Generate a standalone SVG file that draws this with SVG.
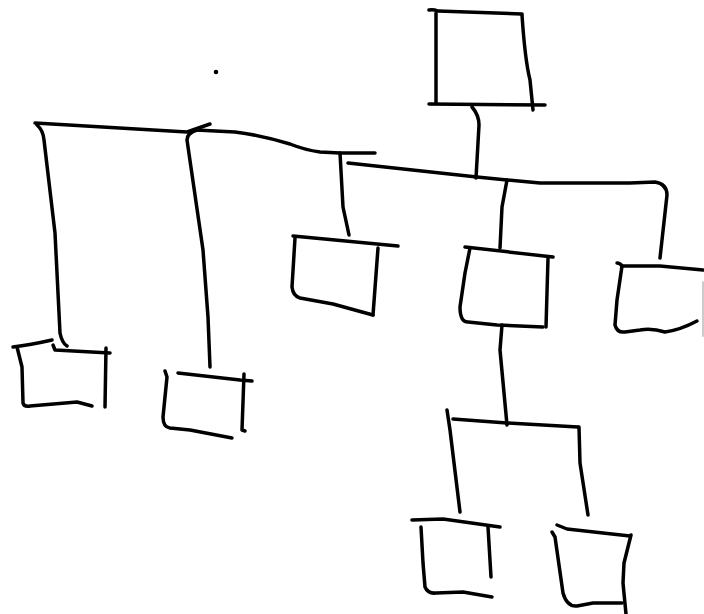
<svg xmlns="http://www.w3.org/2000/svg" width="704" height="614" viewBox="0 0 704 614">
<style>
.s{fill:none;stroke:#000;stroke-width:3.5;stroke-linecap:round;stroke-linejoin:round}
</style>
<rect width="704" height="614" fill="#fff"/>
<g id="connectors" class="s">
<path d="M472,107 Q479,115 479,125 L476,178"/>
<path d="M348,163 L477,177 L507,180 L540,183 L630,183 L655,182 Q667,184 667,195 L660,258"/>
<path d="M35,123 L187,132 L210,124"/>
<path d="M196,130 L235,132 Q260,135 290,144 Q305,150 320,152 L340,153 L375,153"/>
<path d="M37,125 Q43,130 44,140 L55,233 L60,333 Q62,343 67,346"/>
<path d="M197,130 Q187,133 187,140 L203,250 L208,317 L210,367"/>
<path d="M340,153 L343,207 L349,235"/>
<path d="M507,180 L502,207 L500,248"/>
<path d="M502,325 L500,350 L507,425"/>
<path d="M453,419 L507,423 L578,427"/>
<path d="M447,410 L450,430 L460,512"/>
<path d="M579,427 L580,463 L588,515"/>
</g>
<g id="dot"><circle cx="216" cy="72" r="2.3" fill="#000"/></g>
<g id="root" class="s">
<path d="M429,10 Q433,9 438,11 L522,14"/>
<path d="M436,13 L436,103"/>
<path d="M522,15 Q525,60 530,80 L533,110"/>
<path d="M429,104 L545,105"/>
</g>
<g id="node-a" class="s">
<path d="M13,347 Q30,345 52,340"/>
<path d="M53,345 L55,350 L110,353"/>
<path d="M17,347 L22,367 L23,403 Q24,407 30,406 L77,402 L92,406"/>
<path d="M106,348 L105,407"/>
</g>
<g id="node-b" class="s">
<path d="M165,371 L167,377 L163,417 Q163,427 170,428 L190,430 L232,438"/>
<path d="M178,373 L240,380 L252,381"/>
<path d="M244,374 L242,430 L245,431"/>
</g>
<g id="node-c" class="s">
<path d="M293,236 L335,240 L398,246"/>
<path d="M295,238 L292,287 Q293,296 300,298 L333,304 L373,315"/>
<path d="M378,248 L373,315"/>
</g>
<g id="node-d" class="s">
<path d="M465,247 L553,257"/>
<path d="M470,248 L465,273 L460,307 Q460,322 468,322 L497,325 L543,327"/>
<path d="M548,258 L546,327"/>
</g>
<g id="node-e" class="s">
<path d="M617,263 Q620,263 622,266 L660,266 L703,270"/>
<path d="M622,266 L617,300 L615,325 Q617,333 625,332 L640,330 Q652,328 665,332 Q680,330 697,321"/>
<path d="M703,282 L703,336" stroke="#ccc" stroke-width="2"/>
</g>
<g id="node-f" class="s">
<path d="M412,520 L443,519 L500,527"/>
<path d="M421,527 L423,563 L425,587 Q428,594 436,593 L463,592 L492,597"/>
<path d="M488,527 L491,577"/>
</g>
<g id="node-g" class="s">
<path d="M557,525 L567,529 L630,536"/>
<path d="M552,532 L555,537 L563,593 Q567,607 577,606 L593,603 L622,603"/>
<path d="M631,535 L624,563 L623,583 L626,614"/>
</g>
</svg>
